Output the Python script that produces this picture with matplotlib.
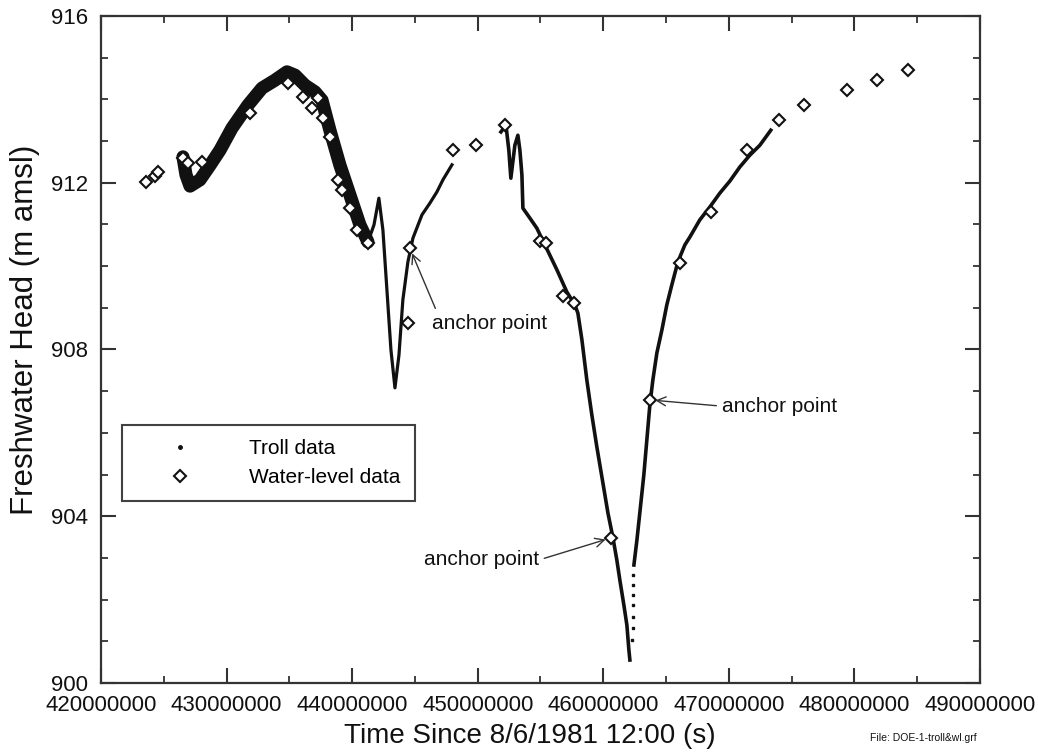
import numpy as np
import matplotlib.pyplot as plt
from matplotlib.lines import Line2D
from matplotlib.ticker import MultipleLocator

plt.rcParams['font.family'] = ['Liberation Sans', 'DejaVu Sans']

# Troll transducer record, noisy early period (plots as a thick band)
troll_x1 = [426.53e6, 426.77e6, 427.09e6, 427.88e6, 428.68e6, 429.47e6, 430.43e6,
            431.70e6, 432.82e6, 433.85e6, 434.81e6, 435.45e6, 436.24e6, 437.04e6,
            437.60e6, 438.23e6, 439.03e6, 439.82e6, 440.62e6, 441.26e6]
troll_y1 = [912.62, 912.19, 911.92, 912.07, 912.42, 912.78, 913.31,
            913.86, 914.27, 914.46, 914.66, 914.58, 914.34, 914.18,
            913.98, 913.26, 912.42, 911.71, 910.99, 910.58]

# Troll record, first drawdown
troll_x2 = [441.26e6, 441.74e6, 442.13e6, 442.45e6, 442.77e6, 443.09e6, 443.41e6,
            443.73e6, 444.04e6, 444.44e6, 444.84e6, 445.56e6, 446.19e6, 446.75e6,
            447.23e6, 447.95e6]
troll_y2 = [910.58, 910.99, 911.63, 910.87, 909.43, 907.99, 907.08,
            907.87, 909.19, 910.10, 910.67, 911.23, 911.51, 911.78,
            912.07, 912.43]

# Troll record, second drawdown (falling limb)
troll_x3 = [451.85e6, 452.25e6, 452.48e6, 452.64e6, 452.96e6, 453.20e6, 453.36e6,
            453.52e6, 453.60e6, 454.16e6, 454.71e6, 455.35e6, 456.31e6, 457.10e6,
            457.74e6, 457.98e6, 458.30e6, 458.69e6, 459.09e6, 459.49e6, 459.97e6,
            460.37e6, 460.76e6, 461.08e6, 461.32e6, 461.64e6, 461.88e6, 462.04e6,
            462.12e6]
troll_y3 = [913.22, 913.38, 912.78, 912.11, 912.90, 913.14, 912.78,
            912.19, 911.39, 911.15, 910.91, 910.51, 909.91, 909.38,
            909.07, 908.87, 908.23, 907.27, 906.43, 905.66, 904.80,
            904.08, 903.50, 902.95, 902.47, 901.87, 901.39, 900.79,
            900.55]

# Sparse readings at the start of recovery
troll_x4 = [462.28e6, 462.36e6, 462.36e6, 462.36e6, 462.36e6, 462.36e6, 462.36e6]
troll_y4 = [901.03, 901.32, 901.58, 901.87, 902.11, 902.35, 902.59]

# Troll record, recovery
troll_x5 = [462.44e6, 462.68e6, 462.91e6, 463.23e6, 463.47e6, 463.71e6, 463.95e6,
            464.27e6, 464.67e6, 465.06e6, 465.46e6, 465.94e6, 466.50e6, 466.90e6,
            467.69e6, 468.49e6, 469.28e6, 470.08e6, 470.88e6, 471.67e6, 472.47e6,
            473.34e6]
troll_y5 = [902.83, 903.43, 904.08, 904.99, 905.83, 906.67, 907.27,
            907.92, 908.47, 909.07, 909.55, 910.10, 910.51, 910.70,
            911.11, 911.42, 911.75, 912.04, 912.38, 912.66, 912.90,
            913.26]

# Manual water-level measurements
wl_x = [423.58e6, 424.30e6, 424.54e6, 426.53e6, 426.93e6, 428.04e6, 431.86e6,
        434.90e6, 436.08e6, 436.80e6, 437.28e6, 437.68e6, 438.23e6, 438.87e6,
        439.19e6, 439.82e6, 440.38e6, 441.26e6, 444.44e6, 444.60e6, 448.03e6,
        449.86e6, 452.17e6, 454.95e6, 455.43e6, 456.78e6, 457.66e6, 460.61e6,
        463.71e6, 466.10e6, 468.57e6, 471.43e6, 473.98e6, 475.97e6, 479.39e6,
        481.78e6, 484.25e6]
wl_y = [912.02, 912.16, 912.26, 912.59, 912.47, 912.50, 913.67,
        914.40, 914.06, 913.79, 914.03, 913.55, 913.10, 912.07,
        911.83, 911.39, 910.87, 910.55, 908.63, 910.43, 912.78,
        912.90, 913.38, 910.60, 910.55, 909.28, 909.11, 903.48,
        906.79, 910.07, 911.30, 912.78, 913.50, 913.86, 914.22,
        914.46, 914.70]

# anchor points: marked water-level point, label position, arrow start on label
anchor_pts = [(444.60e6, 910.43), (463.71e6, 906.79), (460.61e6, 903.48)]
anchor_txt = [(446.35e6, 908.63), (469.45e6, 906.64), (445.70e6, 902.95)]
anchor_rel = [(0.05, 1.0), (0.0, 0.5), (1.0, 0.5)]

fig = plt.figure(figsize=(10.38, 7.52), dpi=100)
ax = fig.add_axes([0.0973, 0.0918, 0.8468, 0.8869])

ink = '#111111'
ax.plot(troll_x1, troll_y1, color=ink, lw=9.5, solid_capstyle='round',
        solid_joinstyle='round', zorder=2)
ax.plot(troll_x2, troll_y2, color=ink, lw=2.3, solid_joinstyle='round', zorder=2)
ax.plot(troll_x3, troll_y3, color=ink, lw=2.6, solid_joinstyle='round', zorder=2)
ax.plot(troll_x4, troll_y4, ls='none', marker='s', ms=2, color=ink, zorder=2)
ax.plot(troll_x5, troll_y5, color=ink, lw=2.6, solid_joinstyle='round', zorder=2)

ax.plot(wl_x, wl_y, ls='none', marker='D', ms=6.5, mfc='white', mec=ink,
        mew=1.5, zorder=3)

for (px, py), (tx, ty), rel in zip(anchor_pts, anchor_txt, anchor_rel):
    ax.annotate('anchor point', xy=(px, py), xytext=(tx, ty),
                fontsize=15, color=ink, va='center', ha='left',
                arrowprops=dict(arrowstyle='->', color='#333333', lw=1.0,
                                relpos=rel, shrinkA=2, shrinkB=4,
                                mutation_scale=16))

ax.set_xlim(420e6, 490e6)
ax.set_ylim(900, 916)
ax.xaxis.set_major_locator(MultipleLocator(10e6))
ax.xaxis.set_minor_locator(MultipleLocator(5e6))
ax.yaxis.set_major_locator(MultipleLocator(4))
ax.yaxis.set_minor_locator(MultipleLocator(1))
ax.ticklabel_format(style='plain', useOffset=False)
ax.tick_params(which='both', direction='in', top=True, right=True,
               colors='#333333', labelcolor=ink, labelsize=16)
ax.tick_params(which='major', length=11, width=1.5, pad=9)
ax.tick_params(which='minor', length=5, width=1.3)
for s in ax.spines.values():
    s.set_linewidth(1.6)
    s.set_color('#333333')

ax.set_xlabel('Time Since 8/6/1981 12:00 (s)', fontsize=20, color=ink)
ax.set_ylabel('Freshwater Head (m amsl)', fontsize=22.5, color=ink)
ax.xaxis.set_label_coords(0.488, -0.060)
ax.yaxis.set_label_coords(-0.069, 0.529)

handles = [Line2D([], [], ls='none', marker='.', ms=5, color=ink),
           Line2D([], [], ls='none', marker='D', ms=6.5, mfc='white', mec=ink, mew=1.5)]
leg = ax.legend(handles, ['Troll data', 'Water-level data'], loc='upper left',
                bbox_to_anchor=(0.0239, 0.387), borderaxespad=0, fontsize=15,
                frameon=True, fancybox=False, edgecolor=ink, handletextpad=1.2,
                borderpad=0.7, labelspacing=0.45, handlelength=4.2)
leg.get_frame().set_linewidth(1.5)

fig.text(0.838, 0.014, 'File: DOE-1-troll&wl.grf', fontsize=7.5, color=ink)

fig.savefig('out.png', dpi=100)
